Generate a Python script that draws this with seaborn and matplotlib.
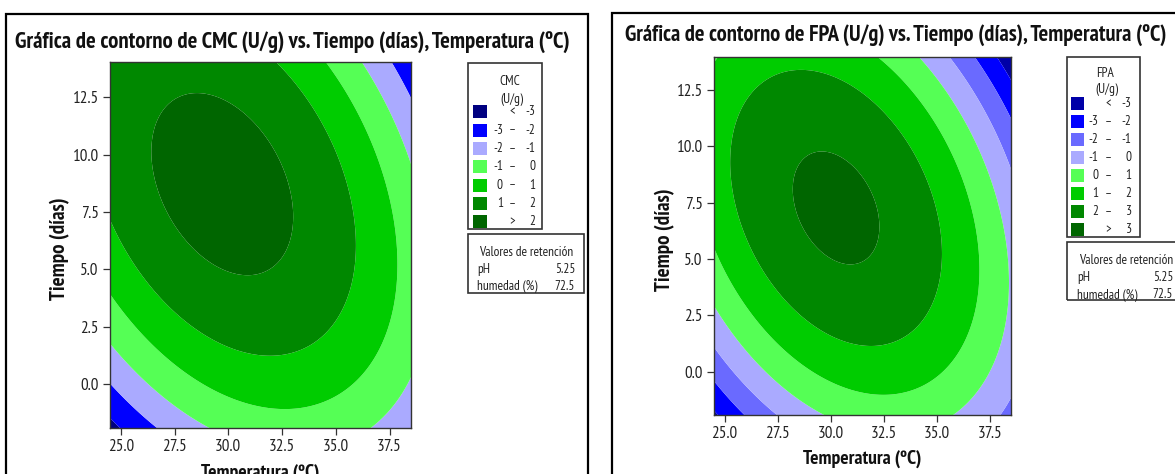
import numpy as np
import matplotlib
matplotlib.use("Agg")
import matplotlib.pyplot as plt
from matplotlib.patches import Rectangle
from matplotlib import font_manager
import seaborn as sns

# Second-order response models, in centred units u = Temperatura - 31.5, v = Tiempo - 6
# coefficient order: constant, u, v, u^2, v^2, u*v   (pH = 5.25, humedad = 72.5 held)
cmc_coef = [2.1700, -0.0804, 0.1111, -0.0413, -0.0285, -0.0245]
fpa_coef = [3.1055, -0.0980, 0.0543, -0.0541, -0.0360, -0.0292]

cmc_cuts = [-3, -2, -1, 0, 1, 2]
cmc_colors = ["#000080", "#0000FF", "#AAAAFF", "#55FF55", "#00CC00", "#008800", "#006600"]
cmc_left = ["", "-3", "-2", "-1", "0", "1", ""]
cmc_mid = ["<", "–", "–", "–", "–", "–", ">"]
cmc_right = ["-3", "-2", "-1", "0", "1", "2", "2"]

fpa_cuts = [-3, -2, -1, 0, 1, 2, 3]
fpa_colors = ["#0000A8", "#0000FF", "#6A6AFF", "#AAAAFF", "#55FF55", "#00CC00", "#008800", "#006600"]
fpa_left = ["", "-3", "-2", "-1", "0", "1", "2", ""]
fpa_mid = ["<", "–", "–", "–", "–", "–", "–", ">"]
fpa_right = ["-3", "-2", "-1", "0", "1", "2", "3", "3"]

temp_lim = [24.5, 38.5]
cmc_time_lim = [-1.92, 14.04]
fpa_time_lim = [-1.92, 13.95]
xticks = [25.0, 27.5, 30.0, 32.5, 35.0, 37.5]
yticks = [0.0, 2.5, 5.0, 7.5, 10.0, 12.5]
hold_names = ["pH", "humedad (%)"]
hold_values = ["5.25", "72.5"]

sns.set_theme(style="white")
names = {f.name for f in font_manager.fontManager.ttflist}
FONT = "DejaVu Sans"
for cand in ["PT Sans Narrow", "Fira Sans Condensed", "Roboto Condensed",
             "Archivo Narrow", "Asap Condensed", "Liberation Sans Narrow"]:
    if cand in names:
        FONT = cand
        break
plt.rcParams["font.family"] = [FONT, "DejaVu Sans"]

W, H = 1175, 474
fig = plt.figure(figsize=(W / 100, H / 100), dpi=100)
fig.patch.set_facecolor("white")
renderer = fig.canvas.get_renderer()


def fx(px):
    return px / W


def fy(py):
    return 1 - py / H


def fit_width(txt, target):
    w = txt.get_window_extent(renderer).width
    txt.set_fontsize(txt.get_fontsize() * target / w)
    return txt.get_fontsize()


# text sizes derived from the wanted pixel widths
_probe = fig.text(0, 0, "25.0", fontsize=10)
TICK_FS = fit_width(_probe, 26)
_probe.set_text("Valores de retención")
_probe.set_fontsize(8)
LEG_FS = fit_width(_probe, 95)
_probe.remove()


def surface(coef, tlim, dlim):
    T = np.linspace(tlim[0], tlim[1], 400)
    D = np.linspace(dlim[0], dlim[1], 400)
    TT, DD = np.meshgrid(T, D)
    u, v = TT - 31.5, DD - 6.0
    Z = (coef[0] + coef[1] * u + coef[2] * v + coef[3] * u * u
         + coef[4] * v * v + coef[5] * u * v)
    return TT, DD, Z


def panel(box, frame, title, title_xy, title_w, coef, dlim, cuts, colors, name,
          lab_l, lab_m, lab_r, leg, ret):
    # outer frame of the panel (open at the bottom)
    fig.add_artist(Rectangle((fx(frame[0]), fy(frame[1] + 600)), (frame[2] - frame[0]) / W,
                             600 / H, transform=fig.transFigure, fill=False,
                             ec="black", lw=1.6))
    tt = fig.text(fx(title_xy[0]), fy(title_xy[1]), title, fontsize=12, fontweight="bold",
                  ha="left", va="center", color="#111111")
    fit_width(tt, title_w)

    ax = fig.add_axes([fx(box[0]), fy(box[3]), (box[2] - box[0]) / W, (box[3] - box[1]) / H])
    TT, DD, Z = surface(coef, temp_lim, dlim)
    bounds = [min(Z.min(), cuts[0]) - 1] + cuts + [max(Z.max(), cuts[-1]) + 1]
    ax.contourf(TT, DD, Z, levels=bounds, colors=colors, antialiased=True)
    ax.set_xlim(temp_lim)
    ax.set_ylim(dlim)
    ax.set_xticks(xticks)
    ax.set_xticklabels([f"{v:.1f}" for v in xticks])
    ax.set_yticks(yticks)
    ax.set_yticklabels([f"{v:.1f}" for v in yticks])
    ax.tick_params(bottom=True, left=True, direction="out", length=5, width=0.9,
                   color="#333333", labelsize=TICK_FS, pad=3, labelcolor="#222222")
    for s in ax.spines.values():
        s.set_color("#333333")
        s.set_linewidth(1.0)
    ax.set_xlabel("Temperatura (ºC)", fontsize=12, fontweight="bold", color="#111111")
    ax.set_ylabel("Tiempo (días)", fontsize=12, fontweight="bold", color="#111111")
    fit_width(ax.xaxis.label, 118)
    ax.yaxis.label.set_fontsize(ax.yaxis.label.get_fontsize() * 103
                                / ax.yaxis.label.get_window_extent(renderer).height)
    ax.xaxis.set_label_coords(0.5, -0.098)
    ax.yaxis.set_label_coords(-0.132, 0.49)

    # level legend
    x0, y0, x1, y1, ty, tdy, ry, rdy, sq0, sq1, c1, c2, c3 = leg
    fig.add_artist(Rectangle((fx(x0), fy(y1)), (x1 - x0) / W, (y1 - y0) / H,
                             transform=fig.transFigure, fill=False, ec="#333333", lw=1.2))
    fig.text(fx(c2 - 3), fy(ty), name, fontsize=LEG_FS, ha="center", va="center", color="#222222")
    fig.text(fx(c2 - 1), fy(ty + tdy), "(U/g)", fontsize=LEG_FS, ha="center", va="center",
             color="#222222")
    for i, col in enumerate(colors):
        yc = ry + i * rdy
        fig.add_artist(Rectangle((fx(sq0), fy(yc + 6.5)), (sq1 - sq0) / W, 13 / H,
                                 transform=fig.transFigure, fc=col, ec="none"))
        fig.text(fx(c1), fy(yc), lab_l[i], fontsize=LEG_FS, ha="right", va="center", color="#222222")
        fig.text(fx(c2), fy(yc), lab_m[i], fontsize=LEG_FS, ha="center", va="center", color="#222222")
        fig.text(fx(c3), fy(yc), lab_r[i], fontsize=LEG_FS, ha="right", va="center", color="#222222")

    # held values box
    bx0, by0, bx1, by1, hy, hdy, hx, hvx = ret
    fig.add_artist(Rectangle((fx(bx0), fy(by1)), (bx1 - bx0) / W, (by1 - by0) / H,
                             transform=fig.transFigure, fill=False, ec="#333333", lw=1.2))
    fig.text(fx(hx + 2), fy(hy), "Valores de retención", fontsize=LEG_FS, ha="left",
             va="center", color="#222222")
    for j, (nm, vl) in enumerate(zip(hold_names, hold_values)):
        fig.text(fx(hx), fy(hy + (j + 1) * hdy), nm, fontsize=LEG_FS, ha="left", va="center",
                 color="#222222")
        fig.text(fx(hvx), fy(hy + (j + 1) * hdy), vl, fontsize=LEG_FS, ha="right", va="center",
                 color="#222222")
    return ax


panel(box=(110, 62, 411, 428), frame=(6, 14, 588),
      title="Gráfica de contorno de CMC (U/g) vs. Tiempo (días), Temperatura (ºC)",
      title_xy=(15, 43), title_w=552, coef=cmc_coef, dlim=cmc_time_lim, cuts=cmc_cuts,
      colors=cmc_colors, name="CMC", lab_l=cmc_left, lab_m=cmc_mid, lab_r=cmc_right,
      leg=(468, 63, 542, 229, 81.7, 17.6, 111.7, 18.33, 472.7, 486.7, 503, 512.7, 535),
      ret=(468, 234, 584, 293, 252.7, 17, 477, 575))

panel(box=(714, 57, 1011, 415), frame=(612, 13, 1240),
      title="Gráfica de contorno de FPA (U/g) vs. Tiempo (días), Temperatura (ºC)",
      title_xy=(625, 36), title_w=541, coef=fpa_coef, dlim=fpa_time_lim, cuts=fpa_cuts,
      colors=fpa_colors, name="FPA", lab_l=fpa_left, lab_m=fpa_mid, lab_r=fpa_right,
      leg=(1067, 57, 1140, 237, 73.3, 16.7, 103.3, 18.0, 1070.7, 1084.3, 1098.3, 1108.3, 1131.7),
      ret=(1067, 242, 1200, 300, 260, 17.5, 1077, 1173))

fig.savefig("out.png", dpi=100)
